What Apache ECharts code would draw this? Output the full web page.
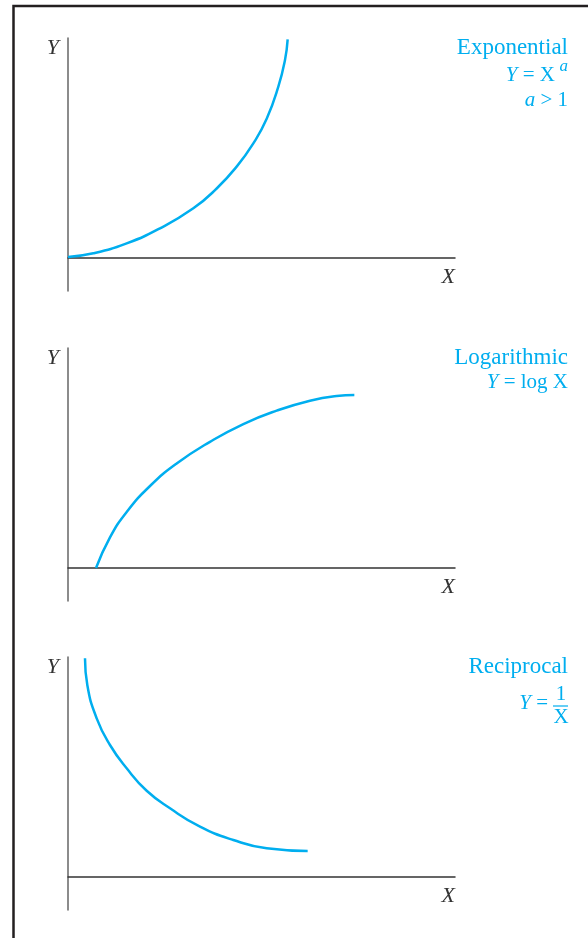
<!DOCTYPE html>
<html>
<head>
<meta charset="utf-8">
<script src="https://cdn.jsdelivr.net/npm/echarts@6/dist/echarts.min.js"></script>
<style>
  html, body { margin: 0; padding: 0; background: #fff; }
  #main { width: 588px; height: 938px; }
</style>
</head>
<body>
<div id="main"></div>
<script>
// curves (x 0..10, y 0..10 per panel)
var expX = [0, 0.655, 1.516, 2.377, 3.239, 3.842, 4.358, 4.789, 5.134, 5.435, 5.607, 5.676]
var expY = [0.045, 0.212, 0.667, 1.349, 2.258, 3.159, 4.152, 5.212, 6.327, 7.788, 9.0, 9.939]

var logX = [0.724, 1.085, 1.516, 2.119, 2.808, 3.669, 4.531, 5.392, 6.253, 6.942, 7.399]
var logY = [0, 1.394, 2.545, 3.727, 4.75, 5.736, 6.545, 7.152, 7.606, 7.818, 7.864]

var recX = [0.439, 0.499, 0.741, 1.085, 1.516, 2.033, 2.636, 3.411, 4.272, 5.134, 6.193]
var recY = [9.939, 8.727, 7.212, 6.0, 4.939, 3.92, 3.121, 2.288, 1.682, 1.303, 1.182]

var panelTops = [38, 348, 657]
var titles = ['Exponential', 'Logarithmic', 'Reciprocal']

var blue = '#00aeef'
var serif = 'Liberation Serif'

function zip(xs, ys) {
  return xs.map(function (x, i) { return [x, ys[i]] })
}

var grids = [], xAxes = [], yAxes = [], series = []
var curves = [zip(expX, expY), zip(logX, logY), zip(recX, recY)]

for (var i = 0; i < 3; i++) {
  grids.push({ left: 68, right: 133, top: panelTops[i], height: 253 })
  xAxes.push({
    type: 'value', gridIndex: i, min: 0, max: 10,
    axisLine: { show: true, onZero: true, lineStyle: { color: '#333', width: 1.5 } },
    axisTick: { show: false }, axisLabel: { show: false }, splitLine: { show: false }
  })
  yAxes.push({
    type: 'value', gridIndex: i, min: -1.5, max: 10,
    axisLine: { show: true, lineStyle: { color: '#666', width: 1.5 } },
    axisTick: { show: false }, axisLabel: { show: false }, splitLine: { show: false }
  })
  series.push({
    type: 'line', xAxisIndex: i, yAxisIndex: i, data: curves[i],
    smooth: 0.5, showSymbol: false, silent: true,
    lineStyle: { color: blue, width: 2.5 }
  })
}

var rich = { i: { fontStyle: 'italic', fontFamily: serif, fontSize: 21, fill: blue } }

function txt(x, y, s, opts) {
  opts = opts || {}
  return {
    type: 'text', x: x, y: y, silent: true,
    style: {
      text: s, align: opts.align || 'right', verticalAlign: 'middle', rich: rich,
      fill: opts.color || blue, font: (opts.italic ? 'italic ' : '') + (opts.size || 21) + 'px "' + serif + '"'
    }
  }
}

var graphics = [
  // frame
  { type: 'rect', shape: { x: 13.5, y: 6, width: 700, height: 1000 }, style: { fill: 'none', stroke: '#231f20', lineWidth: 2.5 }, silent: true }
]

// axis letters and titles
for (var j = 0; j < 3; j++) {
  var t = panelTops[j]
  graphics.push(txt(59, t + 10, 'Y', { italic: true, color: '#333', size: 22 }))
  graphics.push(txt(455, t + 239, 'X', { italic: true, color: '#333', size: 22 }))
  graphics.push(txt(568, t + 10, titles[j], { size: 23 }))
}

// formulas
graphics.push(txt(555, 75, '{i|Y} = X'))
graphics.push(txt(568, 67, 'a', { size: 17, italic: true }))
graphics.push(txt(568, 100, '{i|a} > 1'))
graphics.push(txt(568, 382, '{i|Y} = log X'))
graphics.push(txt(548, 703, '{i|Y} ='))
graphics.push(txt(561, 694, '1', { align: 'center' }))
graphics.push({ type: 'line', shape: { x1: 553, y1: 706, x2: 568, y2: 706 }, style: { stroke: blue, lineWidth: 1.2 }, silent: true })
graphics.push(txt(561, 717, 'X', { align: 'center' }))

var chart = echarts.init(document.getElementById('main'))
chart.setOption({
  animation: false,
  backgroundColor: '#fff',
  grid: grids,
  xAxis: xAxes,
  yAxis: yAxes,
  series: series,
  graphic: graphics
})
</script>
</body>
</html>
